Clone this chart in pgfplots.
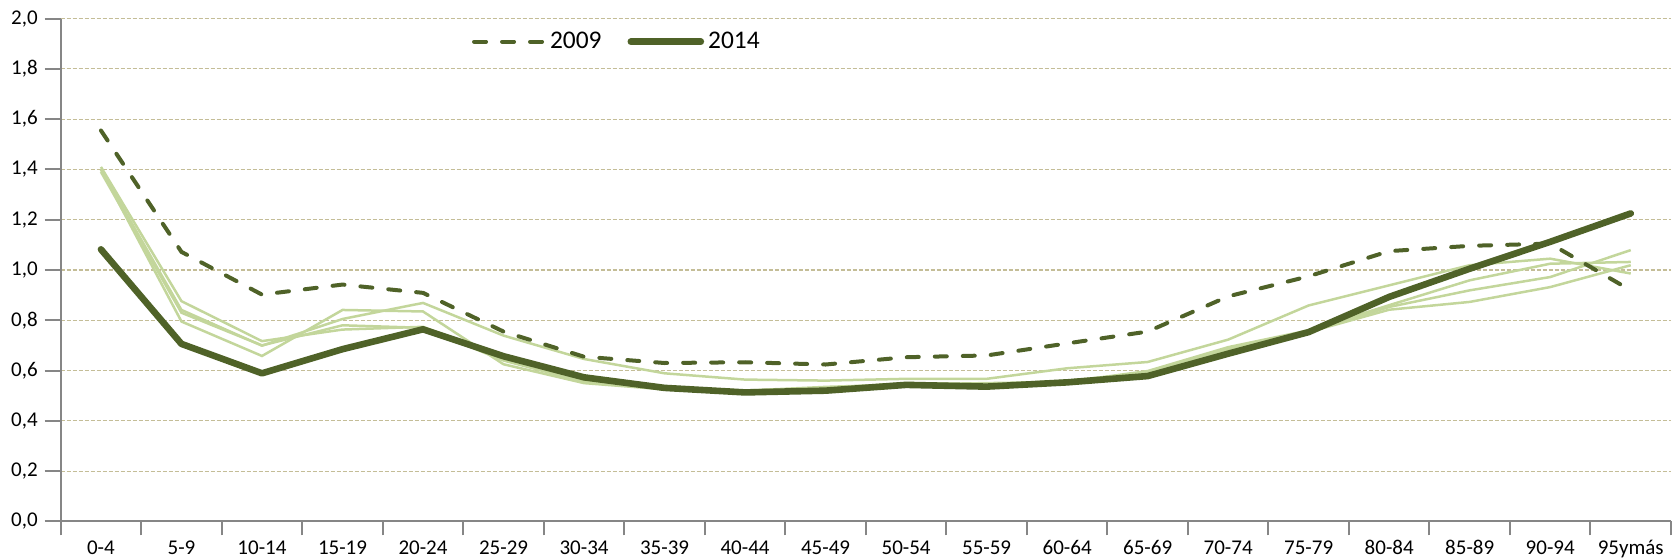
\documentclass[border=0pt]{standalone}
\usepackage{pgfplots}
\pgfplotsset{compat=1.18}
\usepackage{fontspec}
\setmainfont{Carlito}
\definecolor{darkolive}{HTML}{4F6228}
\definecolor{lightolive}{HTML}{C3D69B}
\definecolor{gridtan}{HTML}{C4BD97}
\definecolor{axisgray}{HTML}{868686}
\begin{document}
\begin{tikzpicture}
\useasboundingbox (-30.35pt,-18.8pt) rectangle (807.2pt,260.7pt);
\begin{axis}[
  scale only axis,
  width=805.2pt, height=251.4pt,
  at={(0,0)}, anchor=south west,
  xmin=-0.5, xmax=19.5, ymin=0, ymax=2,
  axis lines*=left,
  axis line style={axisgray, line width=1pt, -},
  xtick={0,...,19},
  xticklabels={0-4,5-9,10-14,15-19,20-24,25-29,30-34,35-39,40-44,45-49,50-54,55-59,60-64,65-69,70-74,75-79,80-84,85-89,90-94,95ymás},
  major x tick style={draw=none},
  minor xtick={-0.5,0.5,...,19.5},
  minor x tick style={axisgray, line width=1pt},
  minor tick length=7pt,
  ytick={0,0.2,...,2.0},
  major y tick style={axisgray, line width=1pt},
  major tick length=8pt,
  tick align=outside,
  tick pos=left,
  ymajorgrids,
  major grid style={gridtan, line width=0.6pt, dash pattern=on 2pt off 1pt},
  y tick label style={/pgf/number format/.cd, use comma, fixed, fixed zerofill, precision=1, /tikz/.cd, font=\fontsize{10.5}{12}\selectfont},
  /pgf/number format/assume math mode=true,
  x tick label style={font=\fontsize{10.5}{12}\selectfont, yshift=2pt},
  legend columns=2,
  legend style={draw=none, fill=none, at={(0.2552,0.954)}, anchor=west, font=\fontsize{12.7}{15}\selectfont, inner sep=0pt, /tikz/every even column/.append style={column sep=11pt}},
  legend cell align=left,
  legend image code/.code={\draw[#1] (0pt,0pt) -- (35pt,0pt);},
  clip=false,
]
\addplot[lightolive, line width=1.25pt, forget plot] coordinates {(0,1.41)(1,0.876)(2,0.717)(3,0.763)(4,0.774)(5,0.653)(6,0.56)(7,0.53)(8,0.52)(9,0.53)(10,0.55)(11,0.545)(12,0.56)(13,0.59)(14,0.687)(15,0.753)(16,0.853)(17,0.919)(18,0.972)(19,1.079)};
\addplot[lightolive, line width=1.25pt, forget plot] coordinates {(0,1.40)(1,0.841)(2,0.699)(3,0.805)(4,0.869)(5,0.739)(6,0.646)(7,0.589)(8,0.564)(9,0.56)(10,0.567)(11,0.567)(12,0.609)(13,0.634)(14,0.723)(15,0.859)(16,0.939)(17,1.019)(18,1.045)(19,0.986)};
\addplot[lightolive, line width=1.25pt, forget plot] coordinates {(0,1.40)(1,0.795)(2,0.658)(3,0.841)(4,0.835)(5,0.625)(6,0.55)(7,0.525)(8,0.515)(9,0.525)(10,0.54)(11,0.54)(12,0.55)(13,0.574)(14,0.68)(15,0.753)(16,0.842)(17,0.873)(18,0.932)(19,1.019)};
\addplot[lightolive, line width=1.25pt, forget plot] coordinates {(0,1.39)(1,0.83)(2,0.70)(3,0.78)(4,0.77)(5,0.64)(6,0.555)(7,0.535)(8,0.52)(9,0.535)(10,0.545)(11,0.55)(12,0.555)(13,0.598)(14,0.693)(15,0.76)(16,0.86)(17,0.959)(18,1.025)(19,1.032)};
\addplot[darkolive, line width=2pt, line cap=round, dash pattern=on 6pt off 8pt] coordinates {(0,1.555)(1,1.072)(2,0.902)(3,0.942)(4,0.909)(5,0.755)(6,0.655)(7,0.630)(8,0.633)(9,0.624)(10,0.653)(11,0.660)(12,0.708)(13,0.755)(14,0.895)(15,0.975)(16,1.075)(17,1.096)(18,1.105)(19,0.919)};
\addlegendentry{2009}
\addplot[darkolive, line width=3.3pt, line cap=round, line join=round] coordinates {(0,1.082)(1,0.706)(2,0.589)(3,0.685)(4,0.764)(5,0.657)(6,0.573)(7,0.531)(8,0.513)(9,0.520)(10,0.543)(11,0.536)(12,0.553)(13,0.578)(14,0.667)(15,0.753)(16,0.893)(17,1.005)(18,1.112)(19,1.225)};
\addlegendentry{2014}
\end{axis}
\end{tikzpicture}
\end{document}
